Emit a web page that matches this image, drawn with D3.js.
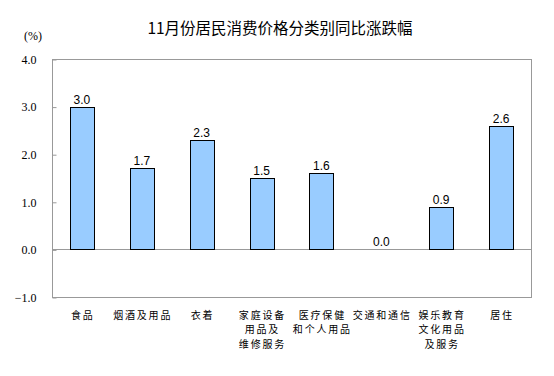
<!DOCTYPE html>
<html><head><meta charset="utf-8">
<script src="https://cdn.jsdelivr.net/npm/d3@7"></script>
<style>body{margin:0;background:#fff}</style>
</head><body>
<script>
const title = "11月份居民消费价格分类别同比涨跌幅";
const categories = [["食品"],["烟酒及用品"],["衣着"],["家庭设备","用品及","维修服务"],["医疗保健","和个人用品"],["交通和通信"],["娱乐教育","文化用品","及服务"],["居住"]];
const values = [3.0, 1.7, 2.3, 1.5, 1.6, 0.0, 0.9, 2.6];
const yTicks = [-1, 0, 1, 2, 3, 4];

const W = 554, H = 376;
const svg = d3.select("body").append("svg").attr("width", W).attr("height", H);
const L = 52, R = 531, T = 59, B = 297;
const x = d3.scaleBand().domain(d3.range(values.length)).range([L, R]).paddingInner(0.6).paddingOuter(0.3);
const y = d3.scaleLinear().domain([-1, 4]).range([B, T]);

svg.append("text").attr("x", 280).attr("y", 34).attr("text-anchor", "middle")
  .attr("font-family", "'Noto Sans CJK SC', sans-serif").attr("font-size", 15.5).attr("fill", "#000").text(title);
svg.append("text").attr("x", 24).attr("y", 40).attr("font-family", "'Liberation Serif', serif")
  .attr("font-size", 12).attr("fill", "#000").text("(%)");

// frame
svg.append("rect").attr("x", L + 0.5).attr("y", T + 0.5).attr("width", R - L).attr("height", B - T)
  .attr("fill", "none").attr("stroke", "#999").attr("stroke-width", 1);

const yAxis = svg.append("g").attr("transform", `translate(${L + 0.5},0.5)`)
  .call(d3.axisLeft(y).tickValues(yTicks).tickSize(-4).tickPadding(16).tickFormat(d3.format(".1f")));
yAxis.select(".domain").remove();
yAxis.selectAll("line").attr("stroke", "#999");
yAxis.selectAll("text").attr("font-family", "'Liberation Serif', serif").attr("font-size", 12).attr("fill", "#000");

// zero line
svg.append("line").attr("x1", L).attr("x2", R).attr("y1", Math.round(y(0)) + 0.5).attr("y2", Math.round(y(0)) + 0.5)
  .attr("stroke", "#999");

svg.selectAll(".bar").data(values).join("rect")
  .attr("x", (d, i) => Math.round(x(i)) + 0.5)
  .attr("y", d => Math.round(y(d)) + 0.5)
  .attr("width", Math.round(x.bandwidth()))
  .attr("height", d => Math.round(y(0)) - Math.round(y(d)))
  .attr("fill", d => d === 0 ? "none" : "#99CCFF")
  .attr("stroke", d => d === 0 ? "none" : "#000").attr("stroke-width", 1);

svg.selectAll(".val").data(values).join("text")
  .attr("x", (d, i) => x(i) + x.bandwidth() / 2)
  .attr("y", d => y(d) - 3)
  .attr("text-anchor", "middle").attr("font-family", "'Liberation Sans', Arial, sans-serif")
  .attr("font-size", 12).attr("fill", "#000").text(d => d.toFixed(1));

categories.forEach((lines, i) => {
  lines.forEach((s, k) => {
    svg.append("text")
      .attr("x", x(i) + x.bandwidth() / 2 + 0.9).attr("y", 319 + k * 14.3)
      .attr("text-anchor", "middle").attr("font-family", "'Noto Sans CJK SC', sans-serif")
      .attr("font-size", 10).attr("letter-spacing", 1.8).attr("fill", "#000").text(s);
  });
});
</script>
</body></html>
